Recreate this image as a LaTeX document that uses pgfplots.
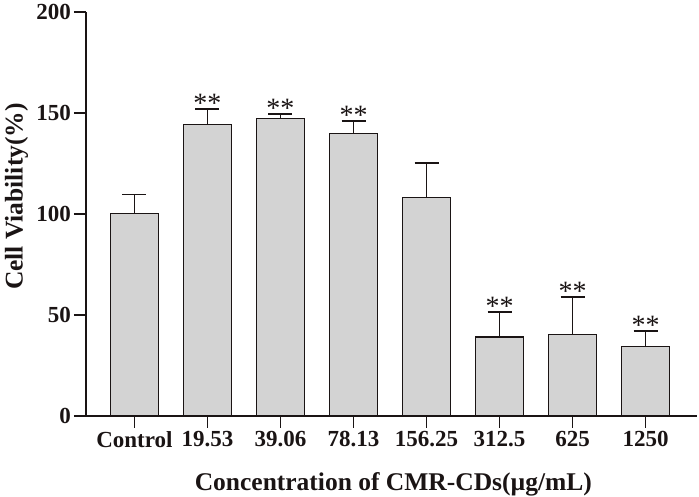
\documentclass[border=0pt]{standalone}
\usepackage{fontspec}
\setmainfont{Liberation Serif}
\usepackage{pgfplots}
\pgfplotsset{compat=1.18}
\definecolor{barfill}{RGB}{211,211,211}
\definecolor{ink}{RGB}{26,20,20}
\begin{document}
\begin{tikzpicture}
\path[use as bounding box] (-86pt,-81pt) rectangle (613pt,416pt);
\begin{axis}[
  at={(0,0)}, anchor=south west,
  scale only axis, width=611pt, height=404pt,
  xmin=-0.664, xmax=7.705, ymin=0, ymax=200,
  axis lines*=left,
  axis line style={line width=1.8pt, ink},
  tick align=outside,
  major tick length=12pt,
  tick style={line width=1.8pt, ink},
  xtick={0,...,7},
  xticklabels={Control,19.53,39.06,78.13,156.25,312.5,625,1250},
  ytick={0,50,100,150,200},
  /pgf/number format/assume math mode=true,
  ticklabel style={font=\fontsize{23}{27}\selectfont\bfseries, text=ink},
  yticklabel style={inner sep=3pt},
  xticklabel style={inner sep=3pt},
  label style={font=\fontsize{25.5}{30}\selectfont\bfseries, text=ink},
  xlabel={Concentration of CMR-CDs(µg/mL)},
  ylabel={Cell Viability(\%)},
  xlabel style={at={(axis description cs:0.503,-0.1832)}, anchor=base},
  ylabel style={at={(axis description cs:-0.1039,0.543)}, anchor=base, rotate=0},
  clip=false,
]
\addplot[ybar, bar width=0.652, bar shift=0pt, fill=barfill, draw=ink, line width=1.5pt,
  error bars/.cd, y dir=plus, y explicit,
  error bar style={line width=1.8pt, ink},
  error mark options={rotate=90, mark size=12pt, line width=1.8pt, ink}]
  table[x=x, y=y, y error=e] {
x y e
0 100.2 9.5
1 144.4 7.6
2 147.2 2.5
3 139.8 6.1
4 108.1 17.1
5 39.1 12.2
6 40.4 18.5
7 34.5 7.4
};
\addplot[draw=none, mark=none, nodes near coords={**},
  every node near coord/.style={font=\fontsize{28}{32}\selectfont, text=ink, anchor=base, inner sep=0pt, yshift=-3.5pt}]
  coordinates {(1,152.0) (2,149.7) (3,145.9) (5,51.3) (6,58.9) (7,41.9)};
\end{axis}
\end{tikzpicture}
\end{document}
